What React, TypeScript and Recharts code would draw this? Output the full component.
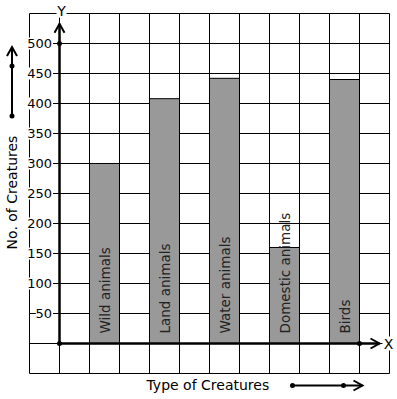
import { BarChart, Bar, XAxis, YAxis, CartesianGrid, ReferenceLine, LabelList } from 'recharts'

const categories = ['Wild animals', 'Land animals', 'Water animals', 'Domestic animals', 'Birds']
const creatureCounts = [300, 408, 442, 160, 440]
const yTicks = [-50, 0, 50, 100, 150, 200, 250, 300, 350, 400, 450, 500, 550]
const yLabelled = [50, 100, 150, 200, 250, 300, 350, 400, 450, 500]

const data = categories.map((name, i) => ({ name, count: creatureCounts[i], spacer: 0 }))

const FONT = 'DejaVu Sans'

// grid lines every half category band, across the whole plot
const verticalLines = ({ xAxis, offset }) => {
  const step = xAxis?.scale?.bandwidth ? xAxis.scale.bandwidth() / 2 : 30
  const pts = []
  for (let x = offset.left; x <= offset.left + offset.width + 0.5; x += step) pts.push(x)
  return pts
}

const YTick = ({ y, payload }) => {
  if (!yLabelled.includes(payload.value)) return <g />
  const label = String(payload.value)
  const w = label.length * 7.6 + 2
  return (
    <g>
      <rect x={53 - w} y={y - 6} width={w} height={12} fill="#fff" />
      <text x={52} y={y} textAnchor="end" dominantBaseline="central" fontSize={13} fontFamily={FONT} fill="#000">
        {label}
      </text>
    </g>
  )
}

const YTitle = ({ viewBox }) => {
  const cx = viewBox.x - 16.5
  const tip = viewBox.y + 33.5
  return (
    <g>
      <line x1={cx} y1={tip} x2={cx} y2={tip + 69} stroke="#000" strokeWidth={2} />
      <polyline points={`${cx - 5},${tip + 9} ${cx},${tip} ${cx + 5},${tip + 9}`} fill="none" stroke="#000" strokeWidth={2} />
      <circle cx={cx} cy={tip + 19} r={2.5} fill="#000" />
      <circle cx={cx} cy={tip + 69} r={2.5} fill="#000" />
      <text
        x={cx}
        y={viewBox.y + 179}
        transform={`rotate(-90 ${cx} ${viewBox.y + 179})`}
        textAnchor="middle"
        dominantBaseline="central"
        fontSize={14}
        fontFamily={FONT}
        fill="#000"
      >
        No. of Creatures
      </text>
    </g>
  )
}

const XTitle = ({ viewBox }) => {
  const cy = viewBox.y + 11
  return (
    <g>
      <text x={viewBox.x + 117} y={cy} dominantBaseline="central" fontSize={14} fontFamily={FONT} fill="#000">
        Type of Creatures
      </text>
      <line x1={viewBox.x + 263} y1={cy + 1} x2={viewBox.x + 333} y2={cy + 1} stroke="#000" strokeWidth={2} />
      <polyline
        points={`${viewBox.x + 324},${cy - 4} ${viewBox.x + 333},${cy + 1} ${viewBox.x + 324},${cy + 6}`}
        fill="none"
        stroke="#000"
        strokeWidth={2}
      />
      <circle cx={viewBox.x + 263} cy={cy + 1} r={2.5} fill="#000" />
      <circle cx={viewBox.x + 314} cy={cy + 1} r={2.5} fill="#000" />
    </g>
  )
}

// y axis through the origin, with arrow head, the "Y" letter and a dot at 500
const YAxisArrow = ({ x1, y1, x2, y2 }) => {
  const bottom = Math.max(y1, y2)
  const top = Math.min(y1, y2)
  const x = x1
  const y500 = bottom - ((bottom - top) * 500) / 533
  return (
    <g>
      <line x1={x} y1={bottom} x2={x} y2={top} stroke="#000" strokeWidth={2.5} />
      <polyline points={`${x - 5},${top + 9} ${x},${top} ${x + 5},${top + 9}`} fill="none" stroke="#000" strokeWidth={2} />
      <circle cx={x} cy={y500} r={2.5} fill="#000" />
      <circle cx={x} cy={bottom} r={2.5} fill="#000" />
      <rect x={x - 3} y={top - 20} width={10} height={14} fill="#fff" />
      <text x={x + 2} y={top - 13} textAnchor="middle" dominantBaseline="central" fontSize={14} fontFamily={FONT} fill="#000">
        Y
      </text>
    </g>
  )
}

// x axis from the origin (one half band in) to the arrow head near the right edge
const XAxisArrow = ({ x1, y1, x2 }) => {
  const start = Math.min(x1, x2) + 30
  const tip = Math.max(x1, x2) - 10
  return (
    <g>
      <line x1={start} y1={y1} x2={tip} y2={y1} stroke="#000" strokeWidth={2.5} />
      <polyline points={`${tip - 9},${y1 - 5} ${tip},${y1} ${tip - 9},${y1 + 5}`} fill="none" stroke="#000" strokeWidth={2} />
      <circle cx={tip - 20} cy={y1} r={2.5} fill="#000" />
      <rect x={tip + 3} y={y1 - 7} width={12} height={14} fill="#fff" />
      <text x={tip + 9} y={y1} textAnchor="middle" dominantBaseline="central" fontSize={14} fontFamily={FONT} fill="#000">
        X
      </text>
    </g>
  )
}

const BarName = ({ x, y, width, height, value }) => {
  const cx = x + width / 2
  const by = y + height - 10
  return (
    <text
      x={cx}
      y={by}
      transform={`rotate(-90 ${cx} ${by})`}
      textAnchor="start"
      dominantBaseline="central"
      fontSize={13.5}
      fontFamily={FONT}
      fill="#222"
    >
      {value}
    </text>
  )
}

export default function App() {
  return (
    <div style={{ position: 'absolute', left: 0, top: 0, background: '#fff' }}>
      <BarChart
        width={397}
        height={399}
        data={data}
        margin={{ top: 13.5, right: 7.5, bottom: 24.5, left: 28.5 }}
        barGap={0}
        barCategoryGap={0}
      >
        <XAxis
          dataKey="name"
          padding={{ left: 30, right: 30 }}
          height={1}
          axisLine={false}
          tickLine={false}
          tick={false}
          label={{ content: XTitle }}
        />
        <YAxis
          type="number"
          domain={[-50, 550]}
          ticks={yTicks}
          width={1}
          axisLine={false}
          tickLine={false}
          tick={YTick}
          label={{ content: YTitle }}
        />
        <CartesianGrid stroke="#000" strokeWidth={1} verticalCoordinatesGenerator={verticalLines} />
        <Bar dataKey="spacer" fill="none" stroke="none" isAnimationActive={false} />
        <Bar dataKey="count" fill="#999" stroke="#000" strokeWidth={1} isAnimationActive={false}>
          <LabelList dataKey="name" content={BarName} />
        </Bar>
        <ReferenceLine
          segment={[
            { x: categories[0], y: 0 },
            { x: categories[0], y: 533 },
          ]}
          position="start"
          shape={YAxisArrow}
        />
        <ReferenceLine y={0} shape={XAxisArrow} />
      </BarChart>
    </div>
  )
}
